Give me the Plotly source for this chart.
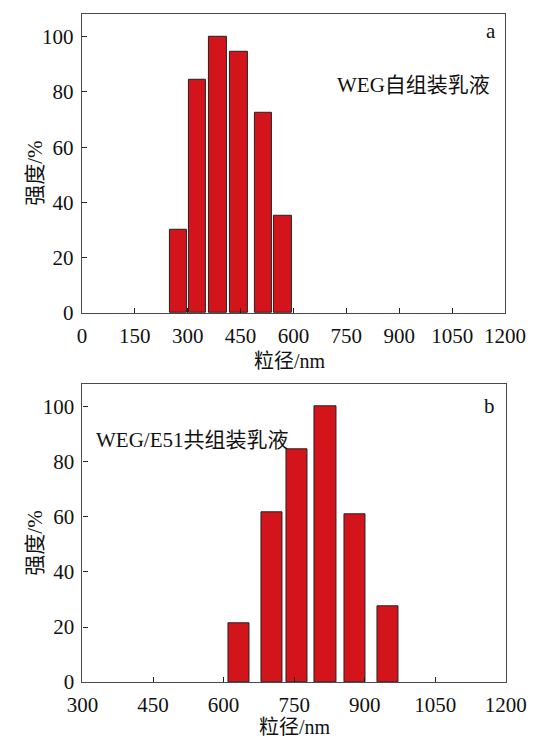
import plotly.graph_objects as go

# Panel a: WEG self-assembled emulsion
a_centers = [274, 327, 386, 446, 514, 570]
a_widths = [49, 49, 49, 50, 49, 49]
a_values = [30, 84.4, 100, 94.5, 72.4, 35.2]

# Panel b: WEG/E51 co-assembled emulsion
b_centers = [632.6, 702.4, 756.3, 816.7, 878.6, 948.8]
b_widths = [45.6, 44.2, 44.2, 45.1, 44.4, 45]
b_values = [21.5, 61.7, 84.5, 100, 60.9, 27.6]

a_ticks = [0, 150, 300, 450, 600, 750, 900, 1050, 1200]
b_ticks = [300, 450, 600, 750, 900, 1050, 1200]
y_ticks = [0, 20, 40, 60, 80, 100]

FONT = "Liberation Serif, Times New Roman, Noto Sans CJK SC, serif"
BAR = "#d4141b"
AX = "#4a4a4a"
TXT = "#111111"
W, H = 547, 745

fig = go.Figure()
fig.add_trace(go.Bar(x=a_centers, y=a_values, width=a_widths,
                     marker=dict(color=BAR, line=dict(color="#222222", width=1)),
                     xaxis="x", yaxis="y", showlegend=False))
fig.add_trace(go.Bar(x=b_centers, y=b_values, width=b_widths,
                     marker=dict(color=BAR, line=dict(color="#222222", width=1)),
                     xaxis="x2", yaxis="y2", showlegend=False))

axcommon = dict(showline=True, linecolor=AX, linewidth=1.3, mirror=True, ticks="inside", ticklen=5,
                tickcolor="#222", tickwidth=1, showgrid=False, zeroline=False,
                tickfont=dict(family=FONT, size=21, color=TXT))

xa = dict(axcommon); xa.update(domain=[70.7 / W, 524.5 / W], range=[0, 1200], tickvals=a_ticks, anchor="y",
                               ticklabelstandoff=4)
ya = dict(axcommon); ya.update(domain=[1 - 318 / H, 1 - 14 / H], range=[0, 108.3], tickvals=y_ticks, anchor="x",
                               ticklabelstandoff=3)
xb = dict(axcommon); xb.update(domain=[71.3 / W, 525.3 / W], range=[300, 1200], tickvals=b_ticks, anchor="y2",
                               ticklabelstandoff=4)
yb = dict(axcommon); yb.update(domain=[1 - 693.3 / H, 1 - 390.6 / H], range=[0, 108.1], tickvals=y_ticks, anchor="x2",
                               ticklabelstandoff=3)


def ann(text, x, y, xanchor="center", angle=0, size=21):
    return dict(text=text, x=x / W, y=1 - y / H, xref="paper", yref="paper", showarrow=False,
                font=dict(family=FONT, size=size, color=TXT), xanchor=xanchor, yanchor="middle",
                textangle=angle, borderpad=0)


fig.update_layout(
    width=W, height=H, margin=dict(l=0, r=0, t=0, b=0),
    paper_bgcolor="white", plot_bgcolor="white", bargap=0,
    xaxis=xa, yaxis=ya, xaxis2=xb, yaxis2=yb,
    annotations=[
        ann("a", 509, 32),
        ann("WEG自组装乳液", 509, 86, xanchor="right"),
        ann("b", 508, 413),
        ann("WEG/E51共组装乳液", 85, 447, xanchor="left"),
        ann("粒径/nm", 294, 367, size=20),
        ann("粒径/nm", 299, 739, size=20),
        ann("强度/%", 21, 176, angle=-90),
        ann("强度/%", 21, 552, angle=-90),
    ],
)

fig.write_html("out.html")
